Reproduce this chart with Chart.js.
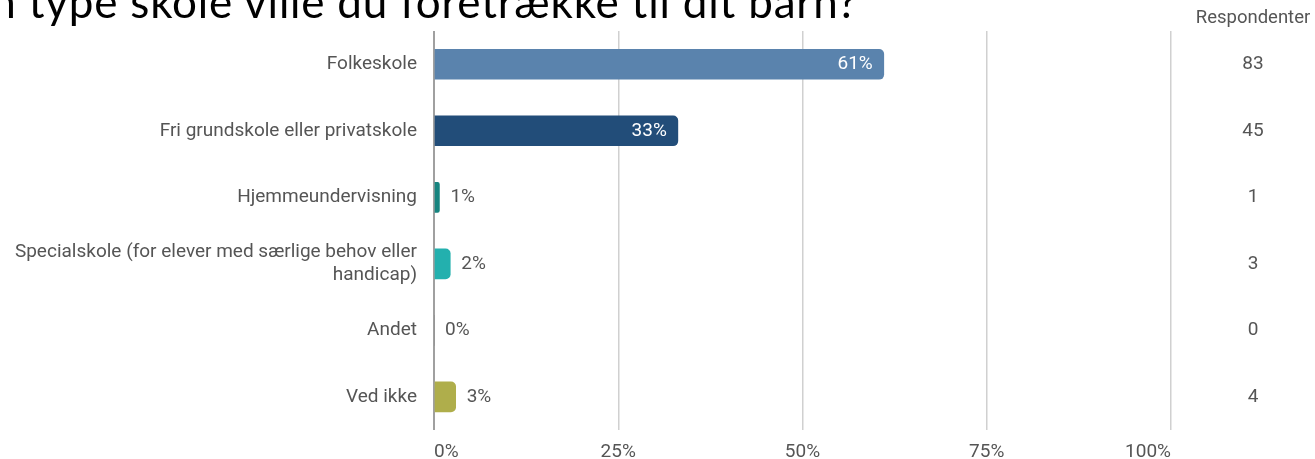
<!DOCTYPE html>
<html>
<head>
<meta charset="utf-8">
<script src="https://cdn.jsdelivr.net/npm/chart.js@4/dist/chart.umd.min.js"></script>
<style>
  html, body { margin: 0; padding: 0; background: #fff; overflow: hidden; }
  #wrap { position: relative; width: 1315px; height: 459px; }
  #title {
    position: absolute; right: 457px; top: -21px;
    font-family: Lato, "DejaVu Sans", sans-serif; font-weight: 400;
    font-size: 44px; line-height: 44px; letter-spacing: 0.8px;
    color: #000; white-space: nowrap;
  }
  canvas { position: absolute; left: 0; top: 0; }
</style>
</head>
<body>
<div id="wrap">
  <canvas id="chart" width="1315" height="459"></canvas>
  <div id="title">Hvilken type skole ville du foretrække til dit barn?</div>
</div>
<script>
// survey answers
const categories = [
  'Folkeskole',
  'Fri grundskole eller privatskole',
  'Hjemmeundervisning',
  ['Specialskole (for elever med særlige behov eller', 'handicap)'],
  'Andet',
  'Ved ikke'
];
const respondents = [83, 45, 1, 3, 0, 4];
const barColors = ['#5a83ad', '#224d79', '#16847f', '#23b0ae', '#7f7f7f', '#afae4b'];
const xTicks = [0, 25, 50, 75, 100];

const total = respondents.reduce((a, b) => a + b, 0);
const shares = respondents.map(n => n / total * 100);

const labelFont = '19px Roboto, sans-serif';

// percent labels on bars + respondent counts column
const sideText = {
  id: 'sideText',
  afterDatasetsDraw(chart) {
    const ctx = chart.ctx;
    const meta = chart.getDatasetMeta(0);
    const yScale = chart.scales.y;
    ctx.save();
    ctx.font = labelFont;
    ctx.textBaseline = 'middle';
    meta.data.forEach((bar, i) => {
      const txt = Math.round(shares[i]) + '%';
      if (shares[i] > 20) {
        ctx.fillStyle = '#ffffff';
        ctx.textAlign = 'right';
        ctx.fillText(txt, bar.x - 11, bar.y);
      } else {
        ctx.fillStyle = '#555555';
        ctx.textAlign = 'left';
        ctx.fillText(txt, bar.x + 11, bar.y);
      }
    });
    ctx.fillStyle = '#555555';
    ctx.textAlign = 'center';
    respondents.forEach((n, i) => {
      ctx.fillText(String(n), 1253, yScale.getPixelForValue(i));
    });
    ctx.font = '18.5px Roboto, sans-serif';
    ctx.fillText('Respondenter', 1253, 18);
    ctx.restore();
  }
};

new Chart(document.getElementById('chart'), {
  type: 'bar',
  data: {
    labels: categories,
    datasets: [{
      data: shares,
      backgroundColor: barColors,
      borderWidth: 0,
      borderRadius: 5,
      borderSkipped: 'start',
      barThickness: 30
    }]
  },
  options: {
    indexAxis: 'y',
    responsive: false,
    animation: false,
    layout: { padding: { top: 31, right: 144, bottom: 0, left: 0 } },
    plugins: { legend: { display: false }, tooltip: { enabled: false } },
    scales: {
      x: {
        min: 0, max: 100,
        afterBuildTicks: s => { s.ticks = xTicks.map(v => ({ value: v })); },
        afterFit: s => { s.height = 27; },
        border: { display: false },
        grid: {
          drawTicks: false,
          color: c => c.index === 0 ? '#a0a0a0' : '#d0d0d0',
          lineWidth: c => c.index === 0 ? 2 : 1.5
        },
        ticks: {
          padding: 11,
          align: 'inner',
          color: '#555555',
          font: { family: 'Roboto', size: 19 },
          callback: v => v + '%'
        }
      },
      y: {
        afterFit: s => { s.width = 434; },
        border: { display: false },
        grid: { display: false, drawTicks: false },
        ticks: {
          padding: 17,
          color: '#555555',
          font: { family: 'Roboto', size: 19, lineHeight: 1.25 }
        }
      }
    }
  },
  plugins: [sideText]
});
</script>
</body>
</html>
